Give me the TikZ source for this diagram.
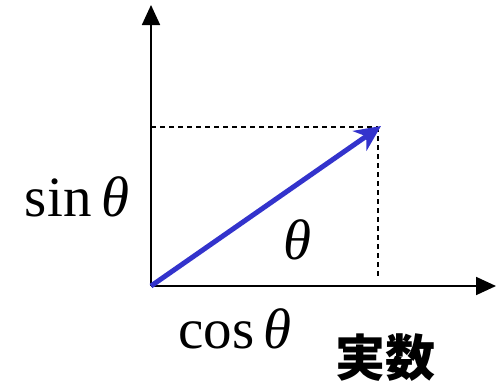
\documentclass[tikz,border=0pt]{standalone}
\usepackage{fontspec}
\setmainfont{Liberation Serif}
\newfontfamily\cjk{Noto Sans CJK JP}
\usetikzlibrary{arrows.meta}
\definecolor{vecblue}{RGB}{51,51,204}
\tikzset{
  axis/.style={line width=1.8pt,-{Triangle[length=20pt,width=18pt]}},
  guide/.style={line width=1.2pt,dash pattern=on 5pt off 4pt},
  vec/.style={line width=5pt,vecblue,-{Stealth[length=26pt,width=24pt,inset=8pt]}},
  lbl/.style={font=\fontsize{57}{60}\selectfont,inner sep=0pt},
}
\begin{document}
\begin{tikzpicture}[x=1pt,y=-1pt]
\useasboundingbox (0,0) rectangle (497,388);
\coordinate (O) at (151,286);
\coordinate (ytop) at (151,5);
\coordinate (xend) at (496,286);
\coordinate (P) at (381,126);
\coordinate (Py) at (151,127);
\coordinate (Pc) at (378,127);
\coordinate (Px) at (378,276);
\draw[guide] (Py) -- (Pc);
\draw[guide] (Pc) -- (Px);
\draw[axis] (O) -- (ytop);
\draw[axis] (O) -- (xend);
\draw[vec] (O) -- (P);
\node[lbl] (sin) at (77,197) {sin\,\textit{θ}};
\node[lbl] (th) at (297,240) {\textit{θ}};
\node[lbl] (cos) at (235,329) {cos\,\textit{θ}};
\node[inner sep=0pt,font=\cjk\bfseries\fontsize{50}{54}\selectfont] (re) at (385,358) {実数};
\end{tikzpicture}
\end{document}
